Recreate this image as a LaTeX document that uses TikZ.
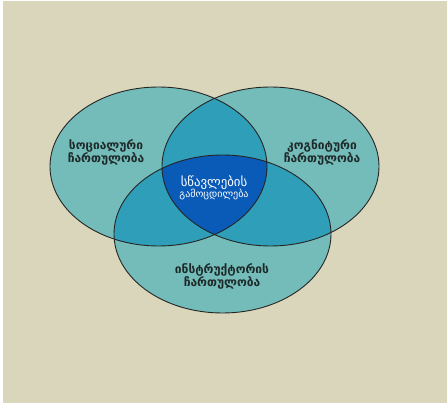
\documentclass[tikz,border=0pt]{standalone}
\usepackage{fontspec}
\setmainfont{DejaVu Sans}
\definecolor{bgc}{HTML}{D9D6BB}
\definecolor{outerc}{HTML}{74BCB9}
\definecolor{pairc}{HTML}{2F9EB8}
\definecolor{corec}{HTML}{0A5AB8}
\definecolor{txtc}{HTML}{1E2A2A}
\tikzset{
  lbl/.style={align=center, text=txtc, inner sep=0pt,
    font=\bfseries\fontsize{12}{13}\selectfont},
  rim/.style={draw=black!85, line width=0.9pt}
}
\begin{document}
\begin{tikzpicture}[x=1pt,y=-1pt]
\fill[white] (0,0) rectangle (447,403);
\fill[bgc] (3,1) rectangle (447,403);
\def\ellA{(158.5,166.5) ellipse [x radius=108.5, y radius=79.5]}
\def\ellB{(270.5,166.5) ellipse [x radius=108.5, y radius=79.5]}
\def\ellC{(222.5,234) ellipse [x radius=108.5, y radius=79]}
\fill[outerc] \ellA;
\fill[outerc] \ellB;
\fill[outerc] \ellC;
\begin{scope}\clip \ellA; \fill[pairc] \ellB; \fill[pairc] \ellC; \end{scope}
\begin{scope}\clip \ellB; \fill[pairc] \ellC; \end{scope}
\begin{scope}\clip \ellA; \clip \ellB; \fill[corec] \ellC; \end{scope}
\draw[rim] \ellA;
\draw[rim] \ellB;
\draw[rim] \ellC;
\node[lbl] (soc) at (106,152) {სოციალური\\ჩართულობა};
\node[lbl] (cog) at (322,152) {კოგნიტური\\ჩართულობა};
\node[lbl] (ins) at (222,276.5) {ინსტრუქტორის\\ჩართულობა};
\node[align=center, text=white, inner sep=0pt] (core) at (214,188)
  {{\fontsize{12.8}{14}\selectfont სწავლების}\\[-1pt]{\fontsize{10}{12}\selectfont გამოცდილება}};
\end{tikzpicture}
\end{document}
